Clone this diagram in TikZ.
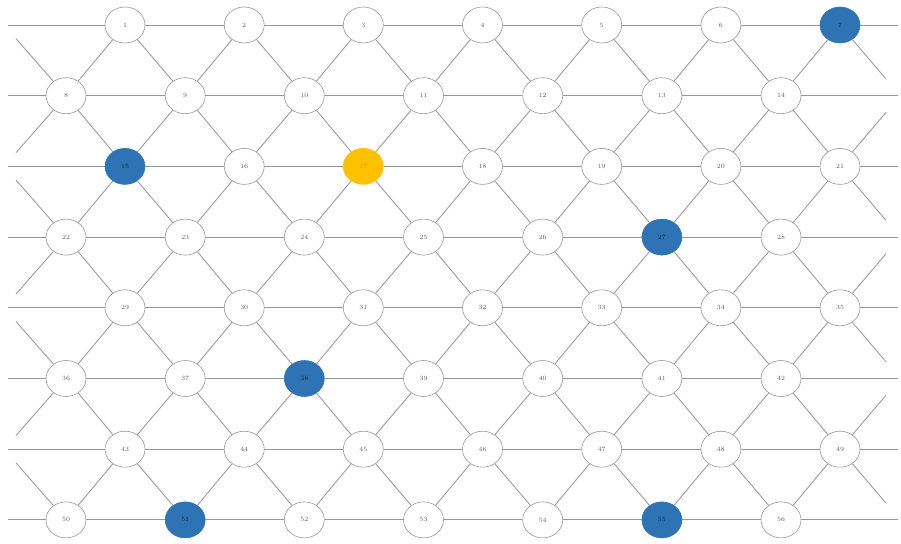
\documentclass[tikz,border=0pt]{standalone}
\usepackage{tikz}
\usetikzlibrary{shapes.geometric}

\definecolor{linkgray}{RGB}{150,150,150}
\definecolor{labelgray}{RGB}{95,95,95}
\definecolor{siteblue}{RGB}{46,116,181}
\definecolor{sitegold}{RGB}{255,192,0}

\tikzset{
  site/.style={ellipse, draw=linkgray, line width=0.5pt, fill=white,
    minimum width=1.2cm, minimum height=1.08cm, inner sep=0pt,
    text=labelgray, font=\fontsize{5.5}{6}\selectfont},
  bluesite/.style={site, draw=siteblue, fill=siteblue, text=black!70!siteblue},
  goldsite/.style={site, draw=sitegold, fill=sitegold, text=black!25!sitegold},
  link/.style={draw=linkgray, line width=0.7pt}
}

\begin{document}
\begin{tikzpicture}[x=0.03cm, y=-0.03cm]
      \useasboundingbox (0,0) rectangle (901,544);
      \draw
        (125.0,25.0) node[site] (1){1}
        (244.2,25.0) node[site] (2){2}
        (363.3,25.0) node[site] (3){3}
        (482.5,25.0) node[site] (4){4}
        (601.7,25.0) node[site] (5){5}
        (720.9,25.0) node[site] (6){6}
        (840.0,25.0) node[bluesite] (7){7}
        (66.0,95.7) node[site] (8){8}
        (185.2,95.7) node[site] (9){9}
        (304.3,95.7) node[site] (10){10}
        (423.5,95.7) node[site] (11){11}
        (542.7,95.7) node[site] (12){12}
        (661.9,95.7) node[site] (13){13}
        (781.0,95.7) node[site] (14){14}
        (125.0,166.4) node[bluesite] (15){15}
        (244.2,166.4) node[site] (16){16}
        (363.3,166.4) node[goldsite] (17){17}
        (482.5,166.4) node[site] (18){18}
        (601.7,166.4) node[site] (19){19}
        (720.9,166.4) node[site] (20){20}
        (840.0,166.4) node[site] (21){21}
        (66.0,237.1) node[site] (22){22}
        (185.2,237.1) node[site] (23){23}
        (304.3,237.1) node[site] (24){24}
        (423.5,237.1) node[site] (25){25}
        (542.7,237.1) node[site] (26){26}
        (661.9,237.1) node[bluesite] (27){27}
        (781.0,237.1) node[site] (28){28}
        (125.0,307.8) node[site] (29){29}
        (244.2,307.8) node[site] (30){30}
        (363.3,307.8) node[site] (31){31}
        (482.5,307.8) node[site] (32){32}
        (601.7,307.8) node[site] (33){33}
        (720.9,307.8) node[site] (34){34}
        (840.0,307.8) node[site] (35){35}
        (66.0,378.5) node[site] (36){36}
        (185.2,378.5) node[site] (37){37}
        (304.3,378.5) node[bluesite] (38){38}
        (423.5,378.5) node[site] (39){39}
        (542.7,378.5) node[site] (40){40}
        (661.9,378.5) node[site] (41){41}
        (781.0,378.5) node[site] (42){42}
        (125.0,449.2) node[site] (43){43}
        (244.2,449.2) node[site] (44){44}
        (363.3,449.2) node[site] (45){45}
        (482.5,449.2) node[site] (46){46}
        (601.7,449.2) node[site] (47){47}
        (720.9,449.2) node[site] (48){48}
        (840.0,449.2) node[site] (49){49}
        (66.0,519.9) node[site] (50){50}
        (185.2,519.9) node[bluesite] (51){51}
        (304.3,519.9) node[site] (52){52}
        (423.5,519.9) node[site] (53){53}
        (542.7,519.9) node[site] (54){54}
        (661.9,519.9) node[bluesite] (55){55}
        (781.0,519.9) node[site] (56){56};
      % loose ends of the rows
      \foreach \r/\y in {1/25.0,2/95.7,3/166.4,4/237.1,5/307.8,6/378.5,7/449.2,8/519.9}
        \path (8,\y) coordinate (w\r) (898,\y) coordinate (e\r);
      % loose ends of the diagonals
      \path
        (16,38.7) coordinate (s8u)   (16,152.7) coordinate (s8d)
        (16,180.1) coordinate (s22u) (16,294.1) coordinate (s22d)
        (16,321.5) coordinate (s36u) (16,435.5) coordinate (s36d)
        (16,462.9) coordinate (s50u)
        (886,79.0) coordinate (s7d)
        (886,112.4) coordinate (s21u) (886,220.4) coordinate (s21d)
        (886,253.8) coordinate (s35u) (886,361.8) coordinate (s35d)
        (886,395.2) coordinate (s49u) (886,503.2) coordinate (s49d);
      \begin{scope}[link]
        \draw (w1) to (1) to (2) to (3) to (4) to (5) to (6) to (7) to (e1);
        \draw (w2) to (8) to (9) to (10) to (11) to (12) to (13) to (14) to (e2);
        \draw (w3) to (15) to (16) to (17) to (18) to (19) to (20) to (21) to (e3);
        \draw (w4) to (22) to (23) to (24) to (25) to (26) to (27) to (28) to (e4);
        \draw (w5) to (29) to (30) to (31) to (32) to (33) to (34) to (35) to (e5);
        \draw (w6) to (36) to (37) to (38) to (39) to (40) to (41) to (42) to (e6);
        \draw (w7) to (43) to (44) to (45) to (46) to (47) to (48) to (49) to (e7);
        \draw (w8) to (50) to (51) to (52) to (53) to (54) to (55) to (56) to (e8);
        \draw (s8u) to (8) to (1) to (9) to (2) to (10) to (3) to (11) to (4) to (12) to (5) to (13) to (6) to (14) to (7) to (s7d);
        \draw (s8d) to (8) to (15) to (9) to (16) to (10) to (17) to (11) to (18) to (12) to (19) to (13) to (20) to (14) to (21) to (s21u);
        \draw (s22u) to (22) to (15) to (23) to (16) to (24) to (17) to (25) to (18) to (26) to (19) to (27) to (20) to (28) to (21) to (s21d);
        \draw (s22d) to (22) to (29) to (23) to (30) to (24) to (31) to (25) to (32) to (26) to (33) to (27) to (34) to (28) to (35) to (s35u);
        \draw (s36u) to (36) to (29) to (37) to (30) to (38) to (31) to (39) to (32) to (40) to (33) to (41) to (34) to (42) to (35) to (s35d);
        \draw (s36d) to (36) to (43) to (37) to (44) to (38) to (45) to (39) to (46) to (40) to (47) to (41) to (48) to (42) to (49) to (s49u);
        \draw (s50u) to (50) to (43) to (51) to (44) to (52) to (45) to (53) to (46) to (54) to (47) to (55) to (48) to (56) to (49) to (s49d);
      \end{scope}
    \end{tikzpicture}
\end{document}
